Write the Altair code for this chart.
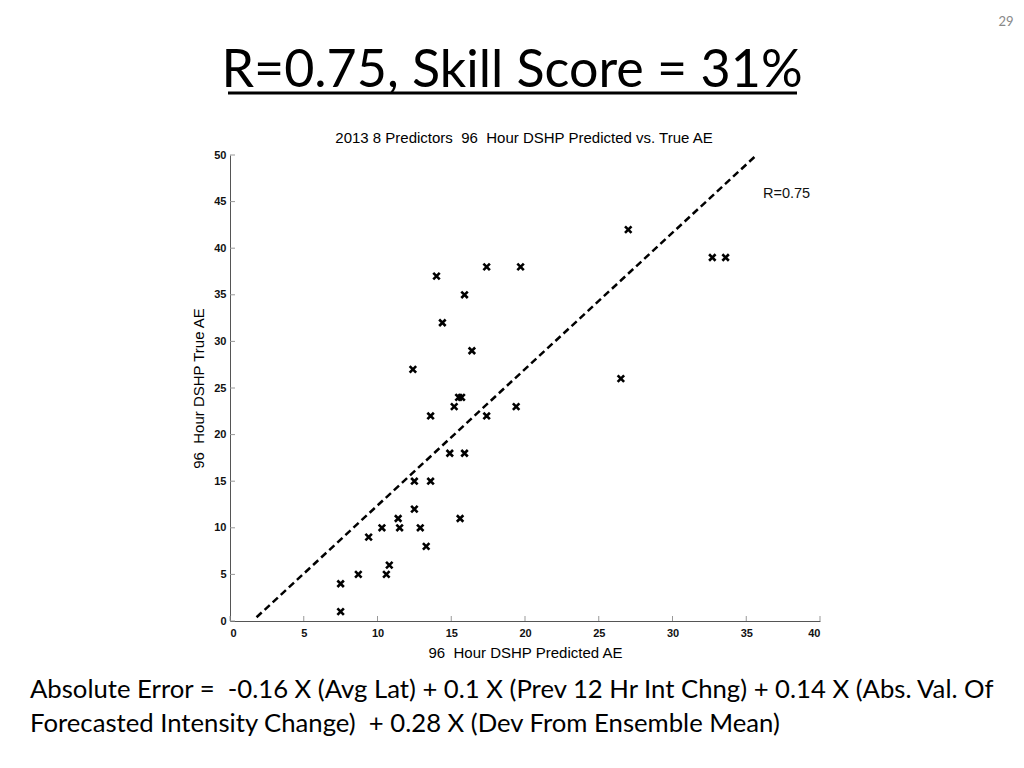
import altair as alt
import pandas as pd

# Data
pred = [7.5, 7.5, 8.7, 9.4, 10.3, 10.6, 10.8, 11.4, 11.5, 12.4, 12.5, 12.5, 12.9, 13.3,
        13.6, 13.6, 14.0, 14.4, 14.9, 15.2, 15.5, 15.7, 15.6, 15.9, 15.9, 16.4, 17.4,
        17.4, 19.4, 19.7, 26.5, 27.0, 32.7, 33.6]
true = [1, 4, 5, 9, 10, 5, 6, 11, 10, 27, 15, 12, 10, 8,
        22, 15, 37, 32, 18, 23, 24, 24, 11, 35, 18, 29, 22,
        38, 23, 38, 26, 42, 39, 39]
line_x = [1.8, 35.7]
line_y = [0.4, 50.0]
x_ticks = [0, 5, 10, 15, 20, 25, 30, 35, 40]
y_ticks = [0, 5, 10, 15, 20, 25, 30, 35, 40, 45, 50]

NB = "\u00a0"
W, H = 590, 466
AXFONT = "Liberation Sans"
SLIDEFONT = "Lato"

pts = pd.DataFrame({"pred": pred, "true": true})
fit = pd.DataFrame({"pred": line_x, "true": line_y})
xt = pd.DataFrame({"v": x_ticks})
yt = pd.DataFrame({"v": y_ticks})
one = pd.DataFrame({"a": [0]})

xscale = alt.Scale(domain=[0, 40], nice=False)
yscale = alt.Scale(domain=[0, 50], nice=False)

points = alt.Chart(pts).mark_point(
    shape="M-1,-1L1,1M-1,1L1,-1", filled=False, color="black", strokeWidth=2.6, size=42, opacity=1
).encode(
    x=alt.X("pred:Q", scale=xscale,
            axis=alt.Axis(values=x_ticks, ticks=False, grid=False, domainColor="#555",
                          labelFont=AXFONT, labelFontSize=11, labelFontWeight="bold",
                          labelColor="#111", labelPadding=6,
                          title=f"96{NB} Hour DSHP Predicted AE",
                          titleFont=AXFONT, titleFontSize=15, titleFontWeight="normal",
                          titleColor="black", titlePadding=7)),
    y=alt.Y("true:Q", scale=yscale,
            axis=alt.Axis(values=y_ticks, ticks=False, grid=False, domainColor="#555",
                          labelFont=AXFONT, labelFontSize=11, labelFontWeight="bold",
                          labelColor="#111", labelPadding=4,
                          title=f"96{NB} Hour DSHP True AE",
                          titleFont=AXFONT, titleFontSize=15, titleFontWeight="normal",
                          titleColor="black", titlePadding=7)),
)

line = alt.Chart(fit).mark_line(color="black", strokeWidth=2.5, strokeDash=[7, 4]).encode(
    x=alt.X("pred:Q", scale=xscale), y=alt.Y("true:Q", scale=yscale)
)

xticks = alt.Chart(xt).mark_rule(color="#999", strokeWidth=1).encode(
    x=alt.X("v:Q", scale=xscale), y=alt.value(H), y2=alt.value(H - 5)
)
yticks = alt.Chart(yt).mark_rule(color="#999", strokeWidth=1).encode(
    y=alt.Y("v:Q", scale=yscale), x=alt.value(0), x2=alt.value(5)
)

rlabel = alt.Chart(one).mark_text(
    text="R=0.75", font=AXFONT, fontSize=14.5, align="left", baseline="middle", color="#111"
).encode(x=alt.value(533), y=alt.value(39))

subtitle = alt.Chart(one).mark_text(
    text=f"2013 8 Predictors {NB}96 {NB}Hour DSHP Predicted vs. True AE", font=AXFONT, fontSize=15,
    align="center", baseline="middle", color="black"
).encode(x=alt.value(294), y=alt.value(-17))

title = alt.Chart(one).mark_text(
    text="R=0.75, Skill Score = 31%", font=SLIDEFONT, fontSize=52,
    align="center", baseline="alphabetic", color="black"
).encode(x=alt.value(282), y=alt.value(-68))

underline = alt.Chart(one).mark_rule(color="black", strokeWidth=3).encode(
    x=alt.value(-2), x2=alt.value(567), y=alt.value(-62)
)

pagenum = alt.Chart(one).mark_text(
    text="29", font=SLIDEFONT, fontSize=13, align="center", baseline="middle", color="#888"
).encode(x=alt.value(776), y=alt.value(-133))

foot1 = alt.Chart(one).mark_text(
    text=f"Absolute Error = {NB}-0.16 X (Avg Lat) + 0.1 X (Prev 12 Hr Int Chng) + 0.14 X (Abs. Val. Of",
    font=SLIDEFONT, fontSize=25.7, align="left", baseline="middle", color="black"
).encode(x=alt.value(-200), y=alt.value(535))

foot2 = alt.Chart(one).mark_text(
    text=f"Forecasted Intensity Change) {NB}+ 0.28 X (Dev From Ensemble Mean)",
    font=SLIDEFONT, fontSize=25.7, align="left", baseline="middle", color="black"
).encode(x=alt.value(-200), y=alt.value(569))

chart = alt.layer(
    line, points, xticks, yticks, rlabel, subtitle, title, underline, pagenum, foot1, foot2
).properties(
    width=W, height=H,
    background="white",
    autosize=alt.AutoSizeParams(type="none"),
    padding={"left": 222, "top": 147, "right": 196, "bottom": 139},
).configure_view(strokeWidth=0, stroke="transparent")

chart.save("out.html", embed_options={"renderer": "svg", "actions": False})
